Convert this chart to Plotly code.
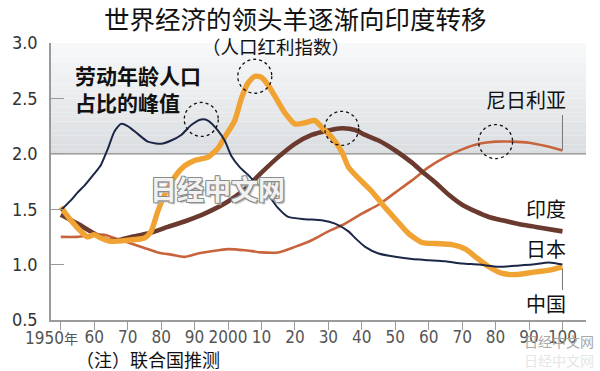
import plotly.graph_objects as go

# ---------------- data ----------------
japan_years = [1950, 1953, 1955, 1957, 1960, 1962, 1964, 1966, 1968, 1970, 1973, 1976, 1980, 1983,
               1986, 1989, 1992, 1994, 1997, 1999, 2001, 2003.5, 2006, 2008.5, 2011, 2013, 2015,
               2018, 2023, 2028, 2032, 2036, 2038, 2041, 2045, 2050, 2055, 2060, 2065, 2070,
               2075, 2081, 2086, 2091, 2096, 2100]
japan_vals = [1.49, 1.58, 1.65, 1.71, 1.82, 1.90, 2.04, 2.20, 2.27, 2.25, 2.18, 2.11, 2.09, 2.12,
              2.17, 2.26, 2.31, 2.30, 2.21, 2.12, 1.98, 1.88, 1.81, 1.73, 1.69, 1.59, 1.51,
              1.43, 1.41, 1.40, 1.37, 1.30, 1.24, 1.16, 1.10, 1.07, 1.05, 1.04, 1.03, 1.01,
              1.00, 0.98, 0.99, 1.00, 1.02, 1.00]

china_years = [1950, 1953, 1956, 1958, 1960, 1962, 1965, 1970, 1975, 1977, 1979, 1981, 1984, 1987,
               1990, 1994, 1997, 1999, 2002, 2004, 2006, 2008, 2010, 2012, 2014, 2017, 2020, 2023,
               2026, 2028, 2031, 2034, 2036, 2039, 2041, 2043, 2046, 2049.5, 2054, 2058, 2062,
               2067, 2071, 2074, 2078, 2082, 2086, 2091, 2096, 2100]
china_vals = [1.52, 1.40, 1.30, 1.25, 1.27, 1.24, 1.21, 1.22, 1.24, 1.30, 1.48, 1.63, 1.79, 1.89,
              1.94, 1.97, 2.05, 2.15, 2.30, 2.50, 2.64, 2.70, 2.69, 2.62, 2.52, 2.37, 2.27, 2.28,
              2.30, 2.24, 2.15, 2.02, 1.88, 1.78, 1.72, 1.66, 1.55, 1.43, 1.28, 1.20, 1.19,
              1.18, 1.14, 1.07, 0.98, 0.92, 0.91, 0.93, 0.95, 0.98]

india_years = [1950, 1955, 1960, 1964, 1967, 1971, 1976, 1982, 1988, 1993, 2000, 2005, 2010, 2015,
               2020, 2025, 2030, 2034, 2038, 2041, 2045, 2050, 2055, 2058, 2062, 2066, 2070, 2074,
               2078, 2082, 2088, 2092, 2100]
india_vals = [1.45, 1.37, 1.28, 1.22, 1.22, 1.25, 1.28, 1.34, 1.40, 1.46, 1.57, 1.68, 1.83, 1.97,
              2.09, 2.17, 2.21, 2.23, 2.215, 2.17, 2.12, 2.03, 1.92, 1.84, 1.74, 1.63, 1.54, 1.48,
              1.43, 1.40, 1.36, 1.34, 1.30]

nigeria_years = [1950, 1955, 1960, 1963, 1967, 1971, 1975, 1979, 1983, 1987, 1991, 1995, 2000, 2005,
                 2010, 2015, 2020, 2025, 2030, 2035, 2040, 2045, 2050, 2055, 2060, 2065, 2070,
                 2075, 2080, 2085, 2090, 2095, 2100]
nigeria_vals = [1.25, 1.25, 1.27, 1.27, 1.23, 1.19, 1.15, 1.11, 1.09, 1.07, 1.10, 1.12, 1.14, 1.13,
                1.11, 1.11, 1.16, 1.22, 1.30, 1.37, 1.46, 1.54, 1.65, 1.76, 1.88, 1.97, 2.04,
                2.09, 2.11, 2.11, 2.10, 2.07, 2.03]

x_tickvals = list(range(1950, 2101, 10))
x_ticktext = ["", "60", "70", "80", "90", "2000", "10", "20", "30", "40", "50", "60", "70", "80", "90", "100"]
y_tickvals = [0.5, 1.0, 1.5, 2.0, 2.5, 3.0]
y_ticktext = ["0.5", "1.0", "1.5", "2.0", "2.5", "3.0"]

# ---------------- geometry helpers (pixel -> data) ----------------
W, H = 600, 371
L, R, T, B = 40, 586, 43, 320
XMIN = 1950 - 10 / 3.4133
XMAX = 2100 + 24 / 3.4133
YMIN, YMAX = 0.5, 3.0


def dx(px):
    return XMIN + (px - L) * (XMAX - XMIN) / (R - L)


def dy(py):
    return YMIN + (B - py) * (YMAX - YMIN) / (B - T)


def ppy(py):
    return (B - py) / (B - T)


def ppx(px):
    return (px - L) / (R - L)


CJK = "Noto Sans CJK SC, Noto Sans, sans-serif"
NUM = "Liberation Sans Narrow, Arial Narrow, DejaVu Sans Condensed, Noto Sans CJK SC, sans-serif"

fig = go.Figure()

# grey gradient region above 2.0
shapes = []
n = 24
top_c = (247, 248, 249)
bot_c = (219, 222, 225)
for i in range(n):
    y0 = 2.0 + i * (1.0 / n)
    y1 = 2.0 + (i + 1) * (1.0 / n)
    t = i / (n - 1)
    c = tuple(int(round(bot_c[k] + (top_c[k] - bot_c[k]) * t)) for k in range(3))
    shapes.append(dict(type="rect", xref="x", yref="y", x0=XMIN, x1=XMAX, y0=y0, y1=y1,
                       fillcolor="rgb(%d,%d,%d)" % c, line=dict(width=0), layer="below"))
# 2.0 line
shapes.append(dict(type="line", xref="x", yref="y", x0=XMIN, x1=XMAX, y0=2.0, y1=2.0,
                   line=dict(color="#8a8a8a", width=1.3), layer="below"))

# series
series = [
    ("尼日利亚", nigeria_years, nigeria_vals, "#c8643c", 2.6),
    ("印度", india_years, india_vals, "#6b3a2e", 4.6),
    ("中国", china_years, china_vals, "#f0a232", 5.4),
    ("日本", japan_years, japan_vals, "#1c2748", 2.0),
]
for name, xs, ys, col, w in series:
    fig.add_trace(go.Scatter(x=xs, y=ys, mode="lines", name=name,
                             line=dict(color=col, width=w, shape="spline", smoothing=0.6),
                             hoverinfo="skip"))

# dotted circles at each series' peak
for name, xs, ys, col, w in series:
    m = max(ys)
    xm = xs[ys.index(m)]
    shapes.append(dict(type="circle", xref="x", yref="y", xsizemode="pixel", ysizemode="pixel",
                       xanchor=xm, yanchor=m, x0=-17, x1=17, y0=-17, y1=17,
                       line=dict(color="#111", width=1.3, dash="dot")))

# leader lines
shapes.append(dict(type="line", xref="x", yref="y", x0=2100, x1=2100, y0=dy(150), y1=dy(115),
                   line=dict(color="#777", width=1)))
shapes.append(dict(type="line", xref="x", yref="y", x0=2100, x1=2100, y0=dy(290), y1=dy(269),
                   line=dict(color="#777", width=1)))

annotations = []


def ann(text, px, py, size, xanchor="center", color="#111", family=CJK, weight="normal",
        shadow=None, align="center"):
    f = dict(size=size, color=color, family=family, weight=weight)
    if shadow:
        f["shadow"] = shadow
    annotations.append(dict(text=text, xref="paper", yref="paper", x=ppx(px), y=ppy(py),
                            xanchor=xanchor, yanchor="middle", showarrow=False, font=f,
                            borderpad=0, align=align))


ann("世界经济的领头羊逐渐向印度转移", 290, 17.5, 25.5)
ann("（人口红利指数）", 270, 46.5, 18.5)
ann("劳动年龄人口<br>占比的峰值", 63, 88, 21, xanchor="left", weight="bold", align="left")
ann("尼日利亚", 567, 99, 20, xanchor="right")
ann("印度", 567, 208, 20, xanchor="right")
ann("日本", 567, 248, 20, xanchor="right")
ann("中国", 567, 303, 20, xanchor="right")
ann("日经中文网", 210, 188, 27, color="#f2f2f2", weight="bold",
    shadow="-1px -1px 0 #8c8c8c, 1px -1px 0 #8c8c8c, -1px 1px 0 #8c8c8c, 1px 1px 0 #8c8c8c, 2px 2px 1px #bbb")
ann("（注）联合国推测", 139, 359, 18)
ann("1950<span style='font-size:14px'>年</span>", 40, 338, 17, color="#555", family=NUM)
ann("日经中文网", 558, 341, 14, color="#a8a8a8")
ann("日经中文网", 558, 360, 14, color="#e6e6e6")

fig.update_layout(
    width=W, height=H, autosize=False,
    margin=dict(l=L, r=W - R, t=T, b=H - B, pad=0),
    paper_bgcolor="white", plot_bgcolor="white",
    showlegend=False,
    shapes=shapes, annotations=annotations,
    xaxis=dict(range=[XMIN, XMAX], showgrid=False, zeroline=False, showline=True,
               linecolor="#9a9a9a", linewidth=1.5, ticks="outside", ticklen=8, tickcolor="#9a9a9a",
               tickwidth=1.3, tickvals=x_tickvals, ticktext=x_ticktext, ticklabelstandoff=-7,
               tickfont=dict(family=NUM, size=17, color="#555")),
    yaxis=dict(range=[YMIN, YMAX], showgrid=False, zeroline=False, showline=True,
               linecolor="#9a9a9a", linewidth=1.5, ticks="inside", ticklen=13, tickcolor="#9a9a9a",
               tickwidth=1.3, tickvals=y_tickvals, ticktext=y_ticktext, ticklabelstandoff=8,
               tickfont=dict(family=NUM, size=18, color="#333")),
)

fig.write_html("out.html", config={"displayModeBar": False},
               post_script="document.body.style.margin='0px';document.body.style.padding='0px';")
